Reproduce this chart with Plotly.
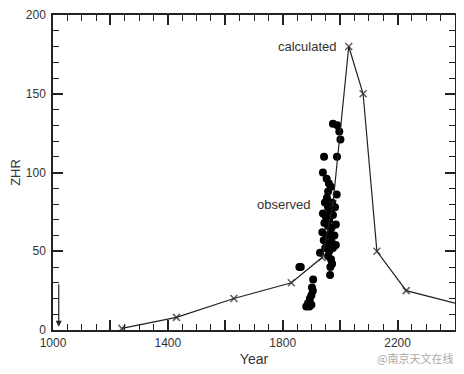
import plotly.graph_objects as go

calc_year = [1240, 1430, 1630, 1830, 1937, 1975, 2030, 2080, 2128, 2230, 2400]
calc_zhr = [1, 8, 20, 30, 46, 80, 180, 150, 50, 25, 17]

obs_year = [1975, 1990, 1997, 2001, 1944, 1989, 1940, 1953, 1961, 1968, 1958, 1954,
            1988, 1972, 1947, 1958, 1982, 1965,
            1940, 1950, 1962, 1975, 1945, 1958, 1970, 1985, 1938, 1952, 1966, 1980,
            1943, 1955, 1970, 1948, 1962, 1975, 1985, 1958, 1968, 1972, 1966, 1965,
            1930, 1858, 1863, 1906, 1902, 1905, 1900, 1895, 1888, 1882, 1893, 1900]
obs_zhr = [131, 130, 126, 121, 110, 110, 100, 96, 93, 91, 88, 84,
           86, 81, 81, 78, 78, 76,
           74, 72, 70, 73, 68, 66, 65, 67, 62, 60, 61, 60,
           57, 55, 56, 52, 50, 52, 54, 47, 45, 42, 40, 35,
           49, 40, 40, 32, 27, 25, 22, 20, 17, 15, 15, 16]

x_tickvals = [1000, 1200, 1400, 1600, 1800, 2000, 2200, 2400]
x_ticktext = ["1000", "", "1400", "", "1800", "", "2200", ""]
y_tickvals = [0, 50, 100, 150, 200]

font_family = "Liberation Sans, Arial, sans-serif"

fig = go.Figure()
fig.add_trace(go.Scatter(
    x=obs_year, y=obs_zhr, mode="markers",
    marker=dict(symbol="circle", size=8, color="black"),
    showlegend=False, hoverinfo="skip"))
fig.add_trace(go.Scatter(
    x=calc_year, y=calc_zhr, mode="lines+markers",
    line=dict(color="#222", width=1.2),
    marker=dict(symbol="x-thin", size=[7] * (len(calc_year) - 1) + [0],
                line=dict(color="#222", width=1.6)),
    showlegend=False, hoverinfo="skip"))

fig.add_annotation(x=1020, y=2, ax=1020, ay=30, axref="x", ayref="y",
                   xref="x", yref="y", text="", showarrow=True,
                   arrowhead=2, arrowsize=1, arrowwidth=1.2, arrowcolor="#222")
fig.add_annotation(x=1995, y=180, xref="x", yref="y", text="calculated",
                   showarrow=False, xanchor="right", yanchor="middle",
                   font=dict(family=font_family, size=13, color="#333"))
fig.add_annotation(x=1902, y=80, xref="x", yref="y", text="observed",
                   showarrow=False, xanchor="right", yanchor="middle",
                   font=dict(family=font_family, size=13, color="#333"))
fig.add_annotation(x=0.90, y=-0.089, xref="paper", yref="paper", text="@南京天文在线",
                   showarrow=False, xanchor="center", yanchor="middle",
                   font=dict(family="Noto Sans CJK SC", size=11, color="#aaa"))

axis_common = dict(showgrid=False, zeroline=False, showline=True, linecolor="#222",
                   linewidth=1.5, mirror="ticks", ticks="inside", tickcolor="#222",
                   tickwidth=1.5, ticklen=10, automargin=False,
                   tickfont=dict(family=font_family, size=12, color="#333"))

fig.update_xaxes(range=[1000, 2400], tickvals=x_tickvals, ticktext=x_ticktext,
                 ticklabelstandoff=1,
                 minor=dict(dtick=50, ticks="inside", ticklen=6, tickcolor="#222", tickwidth=1.2),
                 title=dict(text="Year", standoff=5,
                            font=dict(family=font_family, size=14, color="#333")),
                 **axis_common)
fig.update_yaxes(range=[0, 200], tickvals=y_tickvals, ticklabelstandoff=3,
                 minor=dict(dtick=10, ticks="inside", ticklen=6, tickcolor="#222", tickwidth=1.2),
                 title=dict(text="ZHR", standoff=7,
                            font=dict(family=font_family, size=13, color="#333")),
                 **axis_common)

# page body has an 8px margin, so the figure is sized to sit inside the 464x374 window
fig.update_layout(width=456, height=366, margin=dict(l=45, r=9, t=7, b=44),
                  plot_bgcolor="white", paper_bgcolor="white")

fig.write_html("out.html")
